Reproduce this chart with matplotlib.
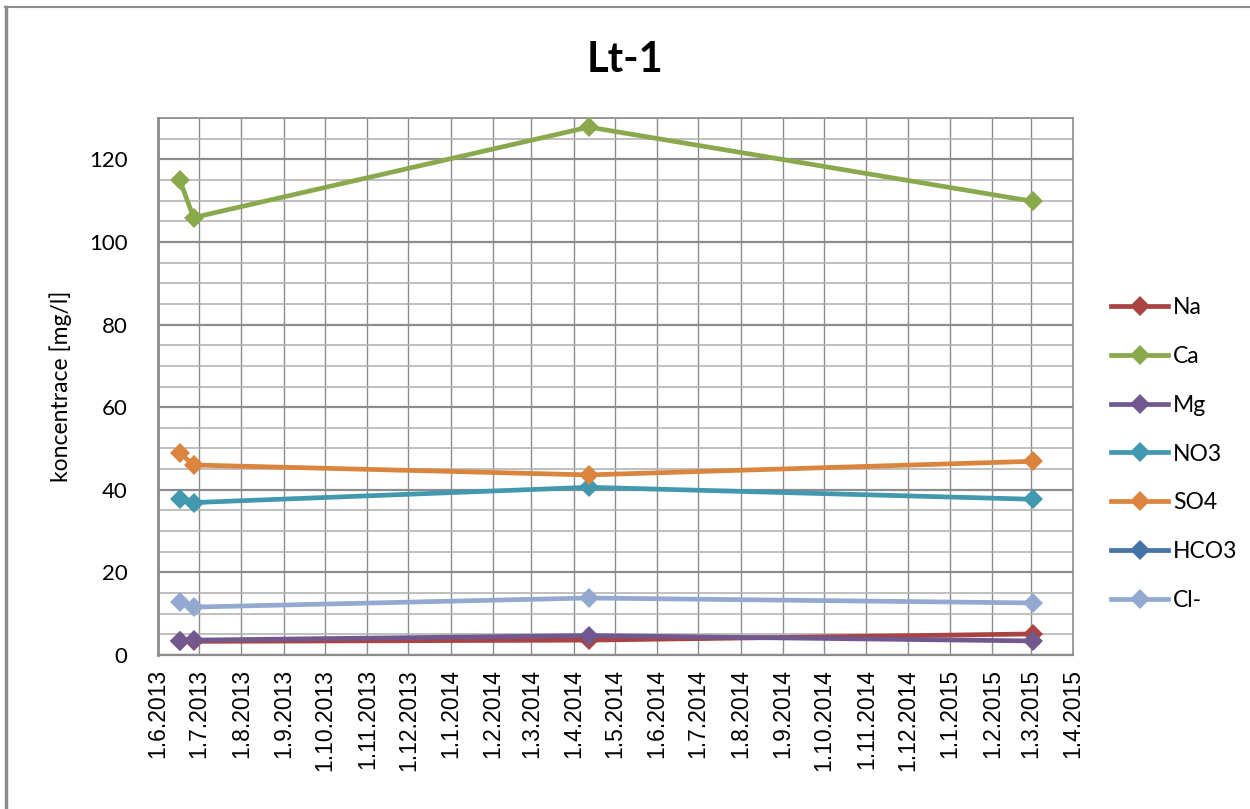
import numpy as np
import matplotlib
matplotlib.use('Agg')
import matplotlib.pyplot as plt
import matplotlib.dates as mdates
from matplotlib.lines import Line2D
from matplotlib.ticker import MultipleLocator, FuncFormatter
import datetime as dt

# sampling dates and concentrations [mg/l]
dates = [dt.date(2013, 6, 17), dt.date(2013, 6, 27), dt.date(2014, 4, 12), dt.date(2015, 3, 3)]
na = [3.3, 3.3, 3.6, 5.1]
ca = [114.9, 105.9, 127.8, 109.8]
mg = [3.4, 3.6, 4.7, 3.4]
no3 = [37.7, 36.9, 40.6, 37.7]
so4 = [48.9, 46.0, 43.6, 46.9]
hco3 = [np.nan, np.nan, np.nan, np.nan]
cl = [12.8, 11.6, 13.8, 12.6]

names = ['Na', 'Ca', 'Mg', 'NO3', 'SO4', 'HCO3', 'Cl-']
series = [na, ca, mg, no3, so4, hco3, cl]
colors = ['#A94442', '#8AA84C', '#71588F', '#4198AF', '#DB843D', '#4572A7', '#93A9CF']

fig = plt.figure(figsize=(12.5, 8.09), dpi=100)
ax = fig.add_axes([158/1250, 1-655/809, (1073-158)/1250, (655-118)/809])

for name, vals, c in zip(names, series, colors):
    ax.plot(mdates.date2num(dates), vals, color=c, lw=3.4, marker='D', ms=10.5,
            markeredgewidth=0, label=name, zorder=3)

ax.set_xlim(mdates.date2num(dt.date(2013, 6, 1)), mdates.date2num(dt.date(2015, 4, 1)))
ax.set_ylim(0, 130)

# grid like excel: months vertically, 5 mg/l horizontally
ax.xaxis.set_major_locator(mdates.MonthLocator())
ax.xaxis.set_major_formatter(FuncFormatter(
    lambda x, p: '%d.%d.%d' % (mdates.num2date(x).day, mdates.num2date(x).month, mdates.num2date(x).year)))
ax.yaxis.set_major_locator(MultipleLocator(20))
ax.yaxis.set_minor_locator(MultipleLocator(5))
ax.grid(True, which='major', axis='x', color='#8c8c8c', lw=1.0)
ax.grid(True, which='major', axis='y', color='#8c8c8c', lw=1.6)
ax.grid(True, which='minor', axis='y', color='#b4b4b4', lw=1.2)
ax.set_axisbelow(True)

ax.tick_params(axis='both', which='both', length=0)
ax.tick_params(axis='y', pad=22)
ax.tick_params(axis='x', pad=10)
for lab in ax.get_xticklabels():
    lab.set_rotation(90)
    lab.set_fontfamily('Liberation Sans')
    lab.set_fontsize(16.5)
for lab in ax.get_yticklabels():
    lab.set_fontfamily('Lato')
    lab.set_fontsize(16)

for s in ax.spines.values():
    s.set_color('#8c8c8c')
    s.set_linewidth(1.2)
ax.spines['left'].set_linewidth(2)
ax.spines['bottom'].set_linewidth(1.6)

ax.set_ylabel('koncentrace [mg/l]', fontfamily='Lato', fontsize=16.5, labelpad=12)
fig.text(0.5, 1-60/809, 'Lt-1', ha='center', va='center', fontfamily='Lato',
         fontweight='bold', fontsize=30)

ax.legend(loc='center left', bbox_to_anchor=(1111/1250, 1-454/809), bbox_transform=fig.transFigure,
          frameon=False, prop={'family': 'Lato', 'size': 16.5}, handlelength=2.5,
          handletextpad=0.2, labelspacing=1.22, borderpad=0, borderaxespad=0)

# outer chart border (top and left only visible)
fig.add_artist(Line2D([5/1250, 1], [1-7/809, 1-7/809], color='#8c8c8c', lw=1.5,
                      transform=fig.transFigure))
fig.add_artist(Line2D([6/1250, 6/1250], [0, 1-7/809], color='#8c8c8c', lw=2.5,
                      transform=fig.transFigure))

fig.savefig('out.png', dpi=100)
